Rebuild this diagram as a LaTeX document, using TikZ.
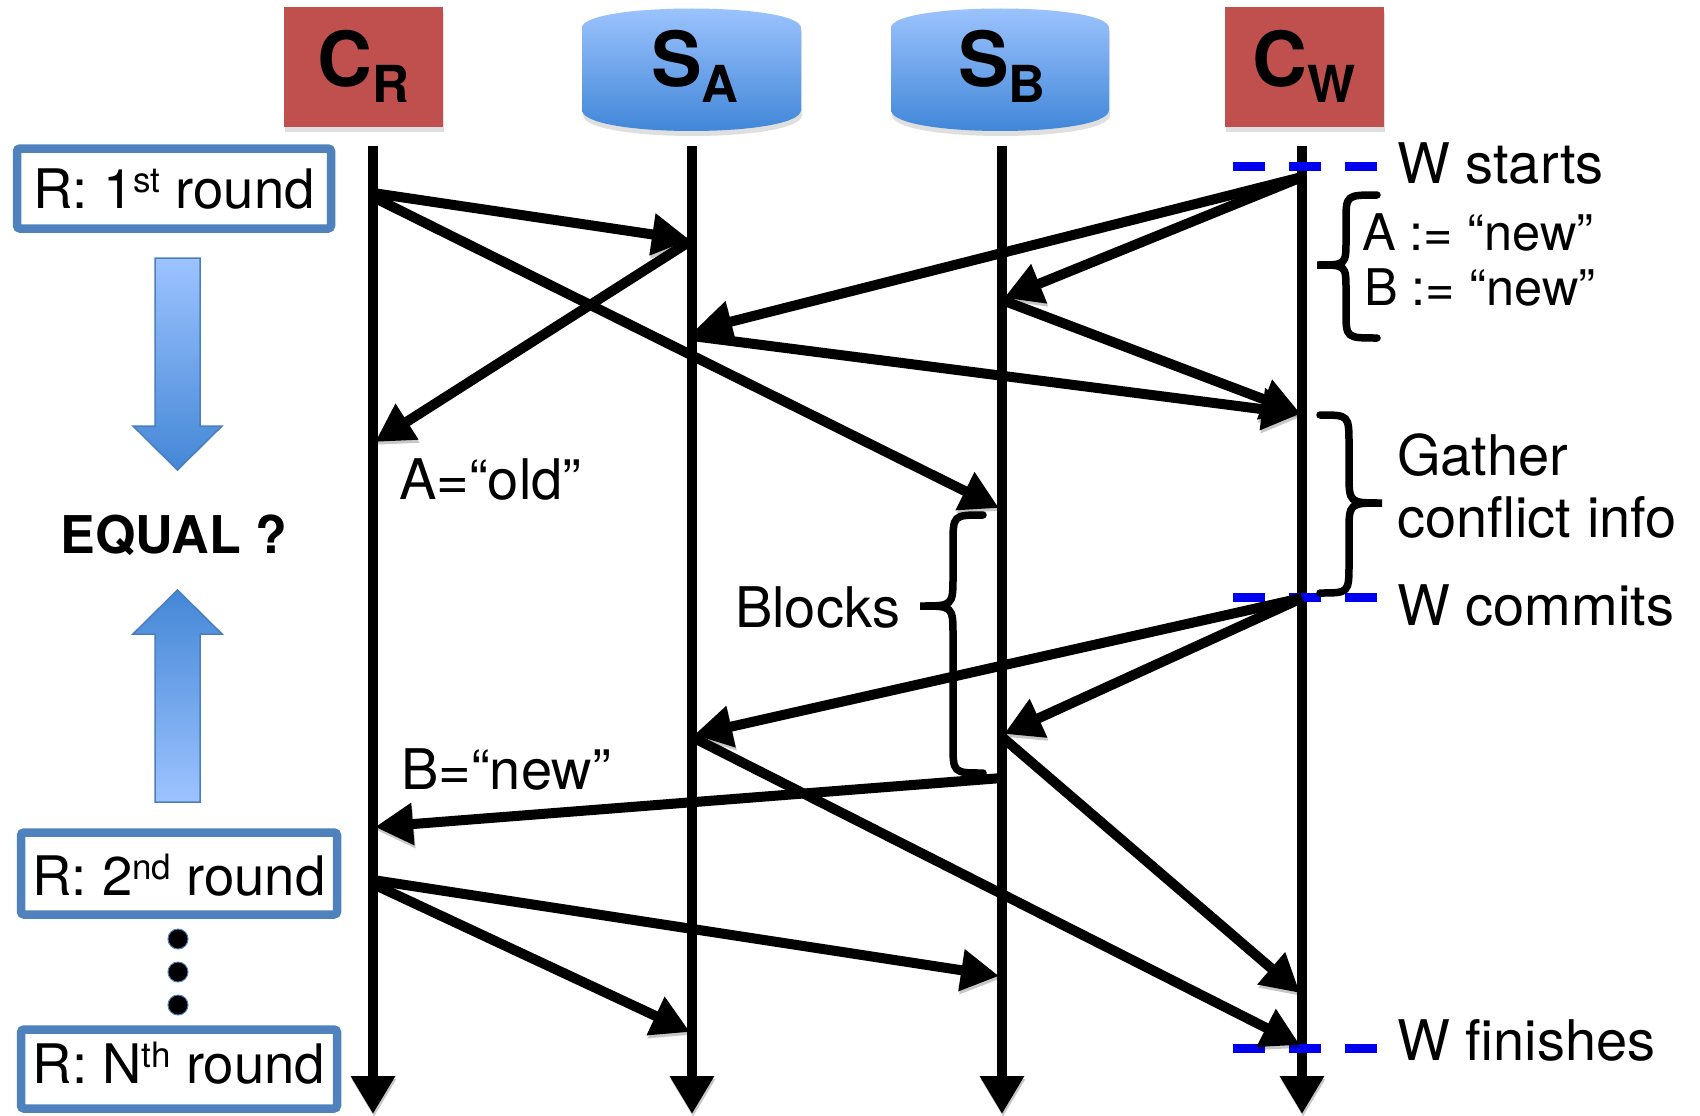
\documentclass[tikz,border=0pt]{standalone}
\usepackage{fontspec}
\setmainfont{TeX Gyre Heros}
\usetikzlibrary{arrows.meta,shadows}

\definecolor{hdrred}{HTML}{C0504D}
\definecolor{cyltop}{HTML}{A0C6FF}
\definecolor{cylbot}{HTML}{3C83D6}
\definecolor{boxblue}{HTML}{4F81BD}
\definecolor{arrlight}{HTML}{9DC3FF}
\definecolor{arrdark}{HTML}{4487D6}
\definecolor{arredge}{HTML}{4A7EBB}
\definecolor{dashblue}{HTML}{0000F0}

% font helpers
\newcommand\lbl{\fontsize{56}{60}\selectfont}
\newcommand\hdr[2]{{\fontsize{76}{76}\selectfont\bfseries #1}\raisebox{-16pt}{\fontsize{51}{51}\selectfont\bfseries #2}}
\newcommand\supx[1]{\raisebox{16pt}{\fontsize{35}{35}\selectfont #1}}

\tikzset{
  softshadow/.style={preaction={draw=black,opacity=0.22,transform canvas={xshift=1pt,yshift=-3pt}}},
  lifeline/.style={softshadow,line width=10.5pt,-{Triangle[length=38pt,width=42pt]}},
  msg/.style={softshadow,line width=10pt,-{Triangle[length=38pt,width=40pt]}},
  redhead/.style={fill=hdrred,inner sep=0pt,minimum width=159pt,text height=80pt,text depth=40pt,
    drop shadow={opacity=0.25,shadow xshift=1pt,shadow yshift=-5pt}},
  cylinder/.style={top color=cyltop,bottom color=cylbot,
    drop shadow={opacity=0.25,shadow xshift=1pt,shadow yshift=-5pt}},
  roundbox/.style={draw=boxblue,line width=8.5pt,fill=white,rounded corners=3pt,inner sep=0pt,
    font=\fontsize{54.5}{58}\selectfont,
    drop shadow={opacity=0.2,shadow xshift=1pt,shadow yshift=-4pt}},
  blockarrow/.style={draw=arredge,line width=1.5pt},
  phase/.style={draw=dashblue,line width=9pt,dash pattern=on 32pt off 24pt},
  bracepath/.style={softshadow,line width=7.5pt,line cap=round},
  label/.style={anchor=base west,inner sep=0pt,font=\lbl},
}

\begin{document}
\begin{tikzpicture}[x=1pt,y=-1pt]
\useasboundingbox (0,0) rectangle (1700,1116);

% ---- participants ----
\node[redhead,anchor=base] (cr) at (363.5,87) {\hdr{C}{R}};
\node[redhead,anchor=base] (cw) at (1304,87) {\hdr{C}{W}};
\path[cylinder] (582,28) .. controls (582,2) and (801,2) .. (801,28)
  -- (801,110) .. controls (801,138) and (582,138) .. (582,110) -- cycle;
\path[cylinder] (891,28) .. controls (891,2) and (1109,2) .. (1109,28)
  -- (1109,110) .. controls (1109,138) and (891,138) .. (891,110) -- cycle;
\node[anchor=base,inner sep=0pt] (sa) at (695,87) {\hdr{S}{A}};
\node[anchor=base,inner sep=0pt] (sb) at (1002,87) {\hdr{S}{B}};

% ---- lifelines ----
\coordinate (crT) at (373,146);  \coordinate (crB) at (373,1114);
\coordinate (saT) at (692,146);  \coordinate (saB) at (692,1114);
\coordinate (sbT) at (1002,146); \coordinate (sbB) at (1002,1114);
\coordinate (cwT) at (1302,146); \coordinate (cwB) at (1302,1114);
\draw[lifeline] (crT) -- (crB);
\draw[lifeline] (saT) -- (saB);
\draw[lifeline] (sbT) -- (sbB);
\draw[lifeline] (cwT) -- (cwB);

% ---- phase markers on the writer ----
\coordinate (wsL) at (1233,166); \coordinate (wsR) at (1378,166);
\coordinate (wcL) at (1233,597); \coordinate (wcR) at (1378,597);
\coordinate (wfL) at (1233,1048); \coordinate (wfR) at (1378,1048);
\draw[phase] (wsL) -- (wsR);
\draw[phase] (wcL) -- (wcR);
\draw[phase] (wfL) -- (wfR);

% ---- message endpoints ----
\coordinate (r1a) at (373,193);  \coordinate (r1aE) at (690,240);
\coordinate (r1b) at (373,197);  \coordinate (r1bE) at (999,508);
\coordinate (saR) at (692,240);  \coordinate (saRE) at (375,442);
\coordinate (w1a) at (1302,177); \coordinate (w1aE) at (694,331);
\coordinate (w1b) at (1302,177); \coordinate (w1bE) at (1004,298);
\coordinate (saW) at (692,336);  \coordinate (saWE) at (1300,414);
\coordinate (sbW) at (1002,300); \coordinate (sbWE) at (1300,413);
\coordinate (w2a) at (1302,598); \coordinate (w2aE) at (694,735);
\coordinate (w2b) at (1302,598); \coordinate (w2bE) at (1004,734);
\coordinate (sbR) at (1002,778); \coordinate (sbRE) at (375,827);
\coordinate (saF) at (692,737);  \coordinate (saFE) at (1300,1045);
\coordinate (sbF) at (1002,737); \coordinate (sbFE) at (1300,993);
\coordinate (r2b) at (373,880);  \coordinate (r2bE) at (999,976);
\coordinate (r2a) at (373,884);  \coordinate (r2aE) at (690,1032);

\draw[msg] (r1a) -- (r1aE);
\draw[msg] (r1b) -- (r1bE);
\draw[msg] (saR) -- (saRE);
\draw[msg] (w1a) -- (w1aE);
\draw[msg] (w1b) -- (w1bE);
\draw[msg] (saW) -- (saWE);
\draw[msg] (sbW) -- (sbWE);
\draw[msg] (w2a) -- (w2aE);
\draw[msg] (w2b) -- (w2bE);
\draw[msg] (sbR) -- (sbRE);
\draw[msg] (saF) -- (saFE);
\draw[msg] (sbF) -- (sbFE);
\draw[msg] (r2b) -- (r2bE);
\draw[msg] (r2a) -- (r2aE);

% ---- braces ----
% writes A and B
\draw[bracepath] (1377,195) .. controls (1346,195) .. (1346,222) -- (1346,240)
  .. controls (1346,265) .. (1317,265) .. controls (1346,265) .. (1346,290)
  -- (1346,311) .. controls (1346,338) .. (1377,338);
% gather conflict info
\draw[bracepath] (1320,415) .. controls (1349,415) .. (1349,445) -- (1349,473)
  .. controls (1349,503) .. (1382,503) .. controls (1349,503) .. (1349,533)
  -- (1349,563) .. controls (1349,593) .. (1320,593);
% blocking interval on S_B
\draw[bracepath] (983,515) .. controls (953,515) .. (953,545) -- (953,576)
  .. controls (953,606) .. (920,606) .. controls (953,606) .. (953,636)
  -- (953,743) .. controls (953,773) .. (983,773);

% ---- labels ----
\node[label] (lws) at (1397,183) {W starts};
\node[label,font=\fontsize{50.5}{54}\selectfont] (lwa) at (1362,250) {A := “new”};
\node[label,font=\fontsize{50.5}{54}\selectfont] (lwb) at (1364,305) {B := “new”};
\node[label] (lg1) at (1397,475) {Gather};
\node[label] (lg2) at (1397,537) {conflict info};
\node[label] (lwc) at (1397,625) {W commits};
\node[label] (lwf) at (1397,1060) {W finishes};
\node[label] (lold) at (399,499) {A=“old”};
\node[label] (lnew) at (401,789) {B=“new”};
\node[label] (lblk) at (735,627) {Blocks};

% ---- reader rounds ----
\node[roundbox,anchor=base,minimum width=314pt,text height=59.5pt,text depth=20.5pt] (rd1) at (174,208) {R: 1\supx{st} round};
\node[roundbox,anchor=base,minimum width=316pt,text height=62.5pt,text depth=19.5pt] (rd2) at (179,895) {R: 2\supx{nd} round};
\node[roundbox,anchor=base,minimum width=316pt,text height=53.5pt,text depth=25.5pt] (rdn) at (179,1083) {R: N\supx{th} round};

\foreach \yy/\nm in {939/d1,972/d2,1005/d3}
  \node[circle,fill=black,draw=boxblue,line width=1pt,minimum size=20pt,inner sep=0pt] (\nm) at (178,\yy) {};

% ---- comparison arrows ----
\path[blockarrow,top color=arrlight,bottom color=arrdark]
  (155,258) -- (200,258) -- (200,426) -- (222,426) -- (177.5,470) -- (133,426) -- (155,426) -- cycle;
\path[blockarrow,top color=arrdark,bottom color=arrlight]
  (177.5,590) -- (222,634) -- (200,634) -- (200,802) -- (155,802) -- (155,634) -- (133,634) -- cycle;
\node[anchor=base,inner sep=0pt,font=\fontsize{52}{56}\selectfont\bfseries] (eq) at (174,553) {EQUAL ?};

\end{tikzpicture}
\end{document}
